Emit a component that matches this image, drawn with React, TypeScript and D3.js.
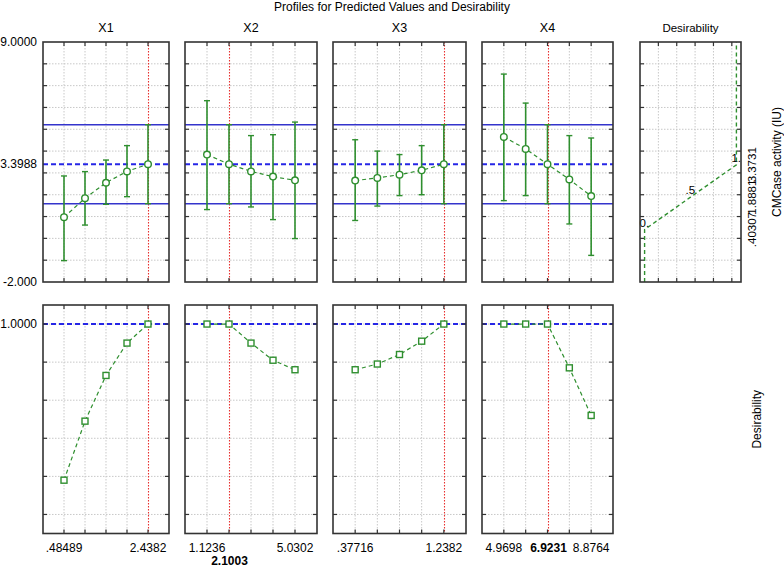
import React from "react";
import * as d3 from "d3";

// ---------- data ----------
const chartTitle = "Profiles for Predicted Values and Desirability";
const factorNames = ["X1", "X2", "X3", "X4"];
const x1Levels = [0.48489, 0.97322, 1.4615, 1.9499, 2.4382];
const x2Levels = [1.1236, 2.1003, 3.0769, 4.0536, 5.0302];
const x3Levels = [0.37716, 0.59242, 0.80768, 1.02294, 1.2382];
const x4Levels = [4.9698, 5.9465, 6.9231, 7.8998, 8.8764];
const currentValues = [2.4382, 2.1003, 1.2382, 6.9231];

const x1Pred = [0.97, 1.84, 2.55, 3.07, 3.3988];
const x1Upper = [2.86, 3.06, 3.59, 4.25, 5.21];
const x1Lower = [-1.02, 0.61, 1.56, 1.91, 1.59];
const x2Pred = [3.84, 3.3988, 3.07, 2.83, 2.66];
const x2Upper = [6.31, 5.21, 4.71, 4.75, 5.33];
const x2Lower = [1.32, 1.59, 1.44, 0.86, -0.01];
const x3Pred = [2.65, 2.77, 2.92, 3.12, 3.3988];
const x3Upper = [4.52, 4.0, 3.84, 4.25, 5.21];
const x3Lower = [0.82, 1.48, 1.96, 2.0, 1.59];
const x4Pred = [4.65, 4.1, 3.3988, 2.7, 1.94];
const x4Upper = [7.53, 6.2, 5.21, 4.71, 4.6];
const x4Lower = [1.73, 1.96, 1.59, 0.66, -0.78];

const x1Desir = [0.18, 0.49, 0.73, 0.9, 1.0];
const x2Desir = [1.0, 1.0, 0.9, 0.81, 0.76];
const x3Desir = [0.76, 0.79, 0.84, 0.91, 1.0];
const x4Desir = [1.0, 1.0, 1.0, 0.77, 0.52];

const currentPred = 3.3988;
const confUpper = 5.21;
const confLower = 1.59;
const currentDesir = 1.0;

const topYDomain = [-2, 9];
const topYTickValues = [-2, 3.3988, 9];
const topYTickLabels = ["-2.000", "3.3988", "9.0000"];
const topYGrid = [-1, 0, 1, 2, 3, 4, 5, 6, 7, 8];
const botYDomain = [-0.1, 1.1];
const botYGrid = [0, 0.2, 0.4, 0.6, 0.8, 1.0];
const botYTickLabels = ["1.0000"];
const botYTickValues = [1.0];

const minLabels = [".48489", "1.1236", ".37716", "4.9698"];
const maxLabels = ["2.4382", "5.0302", "1.2382", "8.8764"];
const currentLabels = ["", "2.1003", "", "6.9231"];

// desirability function for the response
const desirInputs = [0.40307, 1.8881, 3.3731];
const desirInputLabels = [".40307", "1.8881", "3.3731"];
const desirOutputs = [0, 0.5, 1];
const desirOutputLabels = ["0.", ".5", "1."];
const desirGrid = [0.15, 0.35, 0.55, 0.75, 0.95];

const responseLabel = "CMCase activity (IU)";
const desirLabel = "Desirability";

// ---------- layout ----------
const W = 784, H = 568;
const panelX = [[43, 169], [185, 317], [333, 466], [482, 613]];
const topY = [42, 282];
const botY = [305, 533.5];
const desPanel = [640, 741];
const FONT = "'Liberation Sans', Arial, sans-serif";
const GREEN = "#2f8f2f";
const BLUE = "#3434cc";
const BLUE_D = "#2626e6";
const RED = "#e8302e";
const FRAME = "#333";
const GRID = "#c8c8c8";

const levelsAll = [x1Levels, x2Levels, x3Levels, x4Levels];
const predAll = [x1Pred, x2Pred, x3Pred, x4Pred];
const upAll = [x1Upper, x2Upper, x3Upper, x4Upper];
const loAll = [x1Lower, x2Lower, x3Lower, x4Lower];
const desAll = [x1Desir, x2Desir, x3Desir, x4Desir];

const yTop = d3.scaleLinear().domain(topYDomain).range([topY[1], topY[0]]);
const yBot = d3.scaleLinear().domain(botYDomain).range([botY[1], botY[0]]);

function Frame({ x0, x1, y0, y1, xTicks, yTicks }: any) {
  const t = 4;
  return (
    <g>
      {xTicks.map((x: number, i: number) => (
        <g key={"xt" + i}>
          <line x1={x} x2={x} y1={y0} y2={y0 + t} stroke={FRAME} strokeWidth={1.2} />
          <line x1={x} x2={x} y1={y1} y2={y1 - t} stroke={FRAME} strokeWidth={1.2} />
        </g>
      ))}
      {yTicks.map((y: number, i: number) => (
        <g key={"yt" + i}>
          <line x1={x0} x2={x0 + t} y1={y} y2={y} stroke={FRAME} strokeWidth={1.2} />
          <line x1={x1} x2={x1 - t} y1={y} y2={y} stroke={FRAME} strokeWidth={1.2} />
        </g>
      ))}
      <rect x={x0} y={y0} width={x1 - x0} height={y1 - y0} fill="none" stroke={FRAME} strokeWidth={1.6} />
    </g>
  );
}

function Grid({ x0, x1, y0, y1, xs, ys }: any) {
  return (
    <g>
      {xs.map((x: number, i: number) => (
        <line key={"gx" + i} x1={x} x2={x} y1={y0} y2={y1} stroke={GRID} strokeWidth={1} strokeDasharray="1.5,1.5" />
      ))}
      {ys.map((y: number, i: number) => (
        <line key={"gy" + i} x1={x0} x2={x1} y1={y} y2={y} stroke={GRID} strokeWidth={1} strokeDasharray="1.5,1.5" />
      ))}
    </g>
  );
}

export default function App() {
  const panels = factorNames.map((name, i) => {
    const lv = levelsAll[i];
    const step = lv[1] - lv[0];
    const [px0, px1] = panelX[i];
    const x = d3.scaleLinear().domain([lv[0] - step, lv[4] + step]).range([px0, px1]);
    const xg = lv.map((v) => x(v));
    const cx = Math.round(x(currentValues[i])) + 0.5;
    const topGridY = topYGrid.map((v) => yTop(v));
    const botGridY = botYGrid.map((v) => yBot(v));
    const lineTop = d3.line<number>().x((_, k) => x(lv[k])).y((d) => yTop(d));
    const lineBot = d3.line<number>().x((_, k) => x(lv[k])).y((d) => yBot(d));
    const center = (px0 + px1) / 2;
    return (
      <g key={name}>
        <text x={center} y={32} textAnchor="middle" fontSize={12.5}>{name}</text>
        {/* top panel */}
        <rect x={px0} y={topY[0]} width={px1 - px0} height={topY[1] - topY[0]} fill="white" />
        <Grid x0={px0} x1={px1} y0={topY[0]} y1={topY[1]} xs={xg.filter((g) => Math.abs(g - cx) > 2)} ys={topGridY} />
        <line x1={cx} x2={cx} y1={topY[0]} y2={topY[1]} stroke={RED} strokeWidth={1.1} strokeDasharray="1.5,1.5" />
        <line x1={px0} x2={px1} y1={yTop(confUpper)} y2={yTop(confUpper)} stroke={BLUE} strokeWidth={1.5} />
        <line x1={px0} x2={px1} y1={yTop(confLower)} y2={yTop(confLower)} stroke={BLUE} strokeWidth={1.5} />
        <line x1={px0} x2={px1} y1={yTop(currentPred)} y2={yTop(currentPred)} stroke={BLUE_D} strokeWidth={2} strokeDasharray="5,3" />
        <path d={lineTop(predAll[i]) || ""} fill="none" stroke={GREEN} strokeWidth={1.2} strokeDasharray="4,3" />
        {lv.map((v, k) => {
          const xx = x(v);
          const yu = yTop(upAll[i][k]);
          const yl = yTop(loAll[i][k]);
          return (
            <g key={"eb" + k}>
              <line x1={xx} x2={xx} y1={yu} y2={yl} stroke={GREEN} strokeWidth={1.6} />
              <line x1={xx - 3} x2={xx + 3} y1={yu} y2={yu} stroke={GREEN} strokeWidth={1.4} />
              <line x1={xx - 3} x2={xx + 3} y1={yl} y2={yl} stroke={GREEN} strokeWidth={1.4} />
              <circle cx={xx} cy={yTop(predAll[i][k])} r={3.3} fill="white" stroke={GREEN} strokeWidth={1.4} />
            </g>
          );
        })}
        <Frame x0={px0} x1={px1} y0={topY[0]} y1={topY[1]} xTicks={xg} yTicks={topGridY} />
        {/* bottom panel */}
        <rect x={px0} y={botY[0]} width={px1 - px0} height={botY[1] - botY[0]} fill="white" />
        <Grid x0={px0} x1={px1} y0={botY[0]} y1={botY[1]} xs={xg.filter((g) => Math.abs(g - cx) > 2)} ys={botGridY} />
        <line x1={cx} x2={cx} y1={botY[0]} y2={botY[1]} stroke={RED} strokeWidth={1.1} strokeDasharray="1.5,1.5" />
        <line x1={px0} x2={px1} y1={yBot(currentDesir)} y2={yBot(currentDesir)} stroke={BLUE_D} strokeWidth={2} strokeDasharray="5,3" />
        <path d={lineBot(desAll[i]) || ""} fill="none" stroke={GREEN} strokeWidth={1.2} strokeDasharray="4,3" />
        {lv.map((v, k) => (
          <rect key={"sq" + k} x={x(v) - 3} y={yBot(desAll[i][k]) - 3} width={6} height={6} fill="white" stroke={GREEN} strokeWidth={1.4} />
        ))}
        <Frame x0={px0} x1={px1} y0={botY[0]} y1={botY[1]} xTicks={xg} yTicks={botGridY} />
        {/* x labels */}
        <text x={x(lv[0])} y={552} textAnchor="middle" fontSize={12}>{minLabels[i]}</text>
        <text x={x(lv[4])} y={552} textAnchor="middle" fontSize={12}>{maxLabels[i]}</text>
        {currentLabels[i] && (
          <text x={cx} y={Math.abs(cx - x(lv[0])) < 40 ? 565 : 552} textAnchor="middle" fontSize={12} fontWeight="bold">
            {currentLabels[i]}
          </text>
        )}
      </g>
    );
  });

  // desirability function panel
  const dx = d3.scaleLinear().domain([-0.05, 1.05]).range(desPanel);
  const dLine = d3.line<[number, number]>().x((d) => dx(d[1])).y((d) => yTop(d[0]));
  const dPts: [number, number][] = [
    [topYDomain[0], desirOutputs[0]],
    ...desirInputs.map((v, k) => [v, desirOutputs[k]] as [number, number]),
    [topYDomain[1], desirOutputs[2]],
  ];
  const dGridX = desirGrid.map((v) => dx(v));
  const topGridY = topYGrid.map((v) => yTop(v));

  return (
    <svg width={W} height={H} style={{ position: "absolute", left: 0, top: 0, background: "white" }} fontFamily={FONT}>
      <rect width={W} height={H} fill="white" />
      <text x={392} y={11} textAnchor="middle" fontSize={12}>{chartTitle}</text>
      {topYTickValues.map((v, k) => (
        <text key={"yl" + k} x={37} y={yTop(v) + 4} textAnchor="end" fontSize={12}>{topYTickLabels[k]}</text>
      ))}
      {botYTickValues.map((v, k) => (
        <text key={"byl" + k} x={37} y={yBot(v) + 4} textAnchor="end" fontSize={12}>{botYTickLabels[k]}</text>
      ))}
      {panels}
      <text x={(desPanel[0] + desPanel[1]) / 2} y={32} textAnchor="middle" fontSize={11.5}>{desirLabel}</text>
      <rect x={desPanel[0]} y={topY[0]} width={desPanel[1] - desPanel[0]} height={topY[1] - topY[0]} fill="white" />
      <Grid x0={desPanel[0]} x1={desPanel[1]} y0={topY[0]} y1={topY[1]} xs={dGridX} ys={topGridY} />
      <path d={dLine(dPts) || ""} fill="none" stroke={GREEN} strokeWidth={1.4} strokeDasharray="4,3" />
      {desirInputs.map((v, k) => (
        <text key={"dl" + k} x={dx(desirOutputs[k]) - 5} y={yTop(v) - 3} fontSize={11.5}>{desirOutputLabels[k]}</text>
      ))}
      <Frame x0={desPanel[0]} x1={desPanel[1]} y0={topY[0]} y1={topY[1]} xTicks={dGridX} yTicks={topGridY} />
      {desirInputs.map((v, k) => (
        <text key={"di" + k} transform={`translate(756,${yTop(v)}) rotate(-90)`} textAnchor="middle" fontSize={11.5}>
          {desirInputLabels[k]}
        </text>
      ))}
      <text transform={`translate(781,${(topY[0] + topY[1]) / 2}) rotate(-90)`} textAnchor="middle" fontSize={12}>{responseLabel}</text>
      <text transform={`translate(761,${(botY[0] + botY[1]) / 2}) rotate(-90)`} textAnchor="middle" fontSize={12}>{desirLabel}</text>
    </svg>
  );
}
